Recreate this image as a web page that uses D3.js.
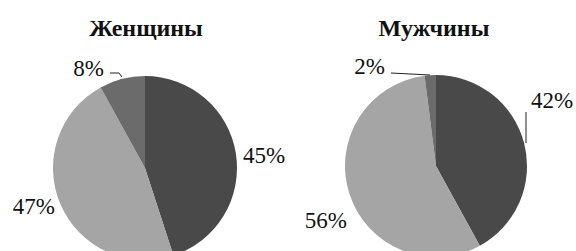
<!DOCTYPE html>
<html>
<head>
<meta charset="utf-8">
<script src="https://cdn.jsdelivr.net/npm/d3@7"></script>
<style>
  body { margin: 0; background: #fff; }
  svg { display: block; }
</style>
</head>
<body>
<script>
// data
var groups = ["Женщины", "Мужчины"];
var womenValues = [45, 47, 8];
var menValues = [42, 56, 2];
var sliceColors = ["#494949", "#a5a5a5", "#6b6b6b"];

var width = 576, height = 251;

// layout per pie: centre, radius, title x, label spots (relative to centre), leader lines
var pies = [
  {
    title: groups[0], values: womenValues, cx: 145, cy: 168, r: 92, tx: 146,
    labels: [[98, -5, "start"], [-90, 46, "end"], [-41, -92, "end"]],
    leaders: [null, null, [[-35, -95], [-26, -95], [-23, -91]]]
  },
  {
    title: groups[1], values: menValues, cx: 436, cy: 166, r: 91, tx: 434,
    labels: [[95, -58, "start"], [-89, 62, "end"], [-51, -92, "end"]],
    leaders: [[[90, -54], [90, -23]], null, [[-45, -93], [-6, -91]]]
  }
];

var svg = d3.select("body")
  .append("svg")
  .attr("width", width)
  .attr("height", height);

var pie = d3.pie().sort(null).value(function (d) { return d; });

pies.forEach(function (p) {
  var g = svg.append("g")
    .attr("transform", "translate(" + p.cx + "," + p.cy + ")");

  var arc = d3.arc().innerRadius(0).outerRadius(p.r);

  g.selectAll("path")
    .data(pie(p.values))
    .enter()
    .append("path")
    .attr("d", arc)
    .attr("fill", function (d, i) { return sliceColors[i]; });

  var line = d3.line();
  p.leaders.forEach(function (pts) {
    if (!pts) return;
    g.append("path")
      .attr("d", line(pts))
      .attr("fill", "none")
      .attr("stroke", "#222")
      .attr("stroke-width", 1);
  });

  g.selectAll("text.lbl")
    .data(p.values)
    .enter()
    .append("text")
    .attr("class", "lbl")
    .attr("x", function (d, i) { return p.labels[i][0]; })
    .attr("y", function (d, i) { return p.labels[i][1]; })
    .attr("text-anchor", function (d, i) { return p.labels[i][2]; })
    .attr("font-family", "Liberation Serif, Times New Roman, serif")
    .attr("font-size", 23)
    .attr("fill", "#111")
    .text(function (d) { return d + "%"; });

  svg.append("text")
    .attr("x", p.tx)
    .attr("y", 36)
    .attr("text-anchor", "middle")
    .attr("font-family", "Liberation Serif, Times New Roman, serif")
    .attr("font-weight", "bold")
    .attr("font-size", 24)
    .attr("fill", "#111")
    .text(p.title);
});
</script>
</body>
</html>
